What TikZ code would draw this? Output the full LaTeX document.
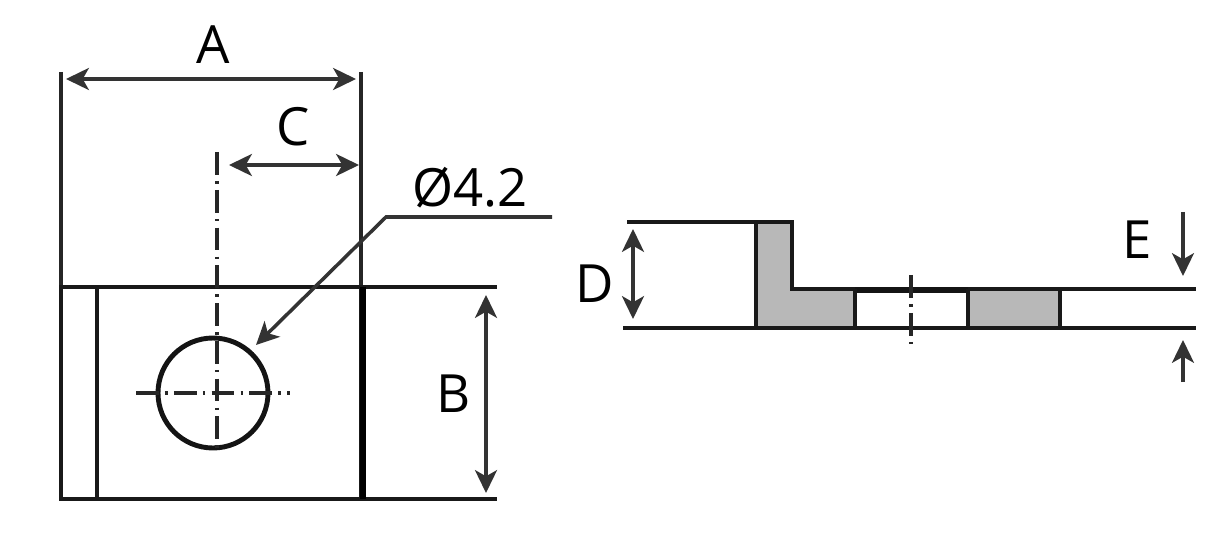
\documentclass[tikz,border=0pt]{standalone}
\usepackage{fontspec}
\setmainfont{Open Sans}
\usetikzlibrary{arrows.meta}
\tikzset{
  part/.style={draw=black!90,line width=2.4pt},
  thin part/.style={draw=black!85,line width=2.2pt},
  dim/.style={draw=black!80,line width=2pt,{Stealth[length=13pt,width=12.5pt,inset=3.5pt]}-{Stealth[length=13pt,width=12.5pt,inset=3.5pt]}},
  single dim/.style={draw=black!80,line width=1.8pt,-{Stealth[length=13pt,width=12.5pt,inset=3.5pt]}},
  axis/.style={draw=black!85,line width=2.1pt,dash pattern=on 13pt off 3.5pt on 1.5pt off 3.5pt},
  letter/.style={font=\fontsize{30}{30}\selectfont,text=black,inner sep=0pt}
}
\begin{document}
\begin{tikzpicture}[x=0.02cm,y=-0.02cm]
 	\useasboundingbox (0,0) rectangle (1232,544);
 	% top view
 	\draw[thin part] (61,72)--(61,287);
 	\draw[thin part] (361,72)--(361,287);
 	\draw[part] (61,287) rectangle (361,499);
 	\draw[part] (361,287)--(497,287);
 	\draw[part] (361,499)--(497,499);
 	\draw[part] (97,287)--(97,499);
 	\draw[draw=black,line width=3.6pt] (363,287)--(363,499);
 	\draw[draw=black!92,line width=2.8pt] (213,393) circle (55);
 	\draw[axis] (217,152)--(217,450);
 	\draw[axis] (136,393)--(290,393);
 	% side view
 	\draw[part,fill=black!28] (756,222)--(792,222)--(792,289)--(855,289)--(855,328)--(756,328)--cycle;
 	\draw[part,fill=black!28] (968,289) rectangle (1060,328);
 	\draw[part] (627,222)--(792,222);
 	\draw[part] (623,328)--(1196,328);
 	\draw[part] (1060,289)--(1196,289);
 	\draw[draw=black!92,line width=3.6pt] (855,290)--(968,290);
 	\draw[part] (855,289)--(855,328);
 	\draw[part] (968,289)--(968,328);
 	\draw[axis] (911,275)--(911,350);
 	% dimensions
 	\coordinate (a l) at (66,79);
 	\coordinate (a r) at (356,79);
 	\coordinate (c l) at (229,165);
 	\coordinate (c r) at (359,165);
 	\coordinate (b t) at (486,295);
 	\coordinate (b b) at (486,493);
 	\coordinate (d t) at (633,229);
 	\coordinate (d b) at (633,319);
 	\coordinate (e t) at (1183,212);
 	\coordinate (e m) at (1183,276);
 	\coordinate (e b) at (1183,382);
 	\coordinate (e n) at (1183,340);
 	\coordinate (lead a) at (552,217);
 	\coordinate (lead b) at (386,217);
 	\coordinate (lead c) at (256,345);
 	\draw[dim] (a l)--(a r);
 	\draw[dim] (c l)--(c r);
 	\draw[dim] (b t)--(b b);
 	\draw[dim] (d t)--(d b);
 	\draw[single dim] (e t)--(e m);
 	\draw[single dim] (e b)--(e n);
 	\draw[single dim,line width=2pt] (lead a)--(lead b)--(lead c);
 	\node[letter] (lab a) at (213,45) {A};
 	\node[letter] (lab c) at (293,127) {C};
 	\node[letter] (lab b) at (454,394) {B};
 	\node[letter] (lab d) at (595,284) {D};
 	\node[letter] (lab e) at (1137,240) {E};
 	\node[letter] (lab hole) at (470,188) {Ø4.2};
\end{tikzpicture}
\end{document}
